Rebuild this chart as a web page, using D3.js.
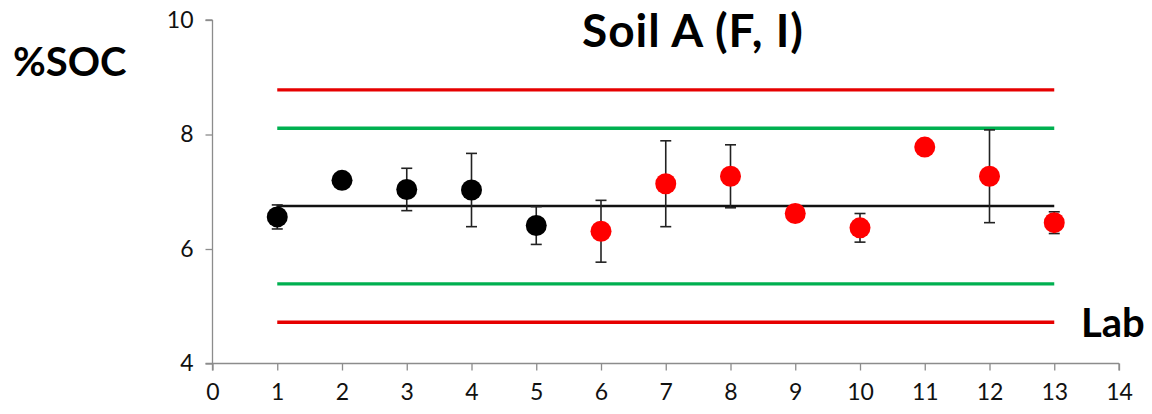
<!DOCTYPE html>
<html>
<head>
<meta charset="utf-8">
<script src="https://cdn.jsdelivr.net/npm/d3@7"></script>
<style>
  html, body { margin: 0; padding: 0; background: #fff; }
  svg { display: block; }
  text { font-family: Lato, "Open Sans", sans-serif; }
</style>
</head>
<body>
<svg id="chart" width="1152" height="414"></svg>
<script>
// Lab results for %SOC, Soil A
const labs = [1, 2, 3, 4, 5, 6, 7, 8, 9, 10, 11, 12, 13];
const socMean = [6.56, 7.20, 7.04, 7.03, 6.41, 6.31, 7.14, 7.27, 6.62, 6.37, 7.78, 7.27, 6.46];
const socErr  = [0.21, 0,    0.37, 0.64, 0.33, 0.54, 0.75, 0.55, 0,    0.25, 0,    0.81, 0.19];
const groupColor = ["black", "black", "black", "black", "black", "red", "red", "red", "red", "red", "red", "red", "red"];

// Consensus value and acceptance limits
const consensus = 6.75;
const innerLimit = 1.36;
const outerLimit = 2.03;
const limitSpan = [1, 13];

const xTicks = d3.range(0, 15, 1);
const yTicks = [4, 6, 8, 10];

const svg = d3.select("#chart");
const x = d3.scaleLinear().domain([0, 14]).range([212.5, 1119]);
const y = d3.scaleLinear().domain([4, 10]).range([363.5, 20]);

const axisColor = "#8c8c8c";

// Y axis
const yAxis = svg.append("g")
  .attr("transform", `translate(${x(0)},0)`)
  .call(d3.axisLeft(y).tickValues(yTicks).tickFormat(d3.format("d")).tickSize(7).tickPadding(12));
// X axis
const xAxis = svg.append("g")
  .attr("transform", `translate(0,${y(4)})`)
  .call(d3.axisBottom(x).tickValues(xTicks).tickFormat(d3.format("d")).tickSize(7).tickPadding(13));

[yAxis, xAxis].forEach(g => {
  g.select(".domain").attr("stroke", axisColor).attr("stroke-width", 1.3);
  g.selectAll(".tick line").attr("stroke", axisColor).attr("stroke-width", 1.3);
  g.selectAll(".tick text").attr("fill", "#111").attr("font-size", 23)
    .attr("font-family", "Lato, 'Open Sans', sans-serif");
});
// Axis lines overhang slightly at the corners
xAxis.select(".domain").attr("d", `M${x(0) - 7},0H${x(14)}M${x(14)},0V7`);
yAxis.select(".domain").attr("d", `M0,${y(10)}H-7M0,${y(10)}V${y(4) + 7}`);

// Reference lines
const refLines = [
  { v: consensus + outerLimit, color: "#e60000", w: 3.4 },
  { v: consensus + innerLimit, color: "#00b050", w: 3.4 },
  { v: consensus,              color: "#111111", w: 2.6 },
  { v: consensus - innerLimit, color: "#00b050", w: 3.4 },
  { v: consensus - outerLimit, color: "#e60000", w: 3.4 }
];
svg.append("g").selectAll("line").data(refLines).join("line")
  .attr("x1", x(limitSpan[0])).attr("x2", x(limitSpan[1]))
  .attr("y1", d => y(d.v)).attr("y2", d => y(d.v))
  .attr("stroke", d => d.color).attr("stroke-width", d => d.w);

// Error bars
const data = labs.map((lab, i) => ({ lab, v: socMean[i], e: socErr[i], c: groupColor[i] }));
const eb = svg.append("g").attr("stroke", "#222").attr("stroke-width", 1.6);
data.filter(d => d.e > 0).forEach(d => {
  const cx = x(d.lab);
  eb.append("line").attr("x1", cx).attr("x2", cx).attr("y1", y(d.v + d.e)).attr("y2", y(d.v - d.e));
  eb.append("line").attr("x1", cx - 5.5).attr("x2", cx + 5.5).attr("y1", y(d.v + d.e)).attr("y2", y(d.v + d.e));
  eb.append("line").attr("x1", cx - 5.5).attr("x2", cx + 5.5).attr("y1", y(d.v - d.e)).attr("y2", y(d.v - d.e));
});

// Lab markers
svg.append("g").selectAll("circle").data(data).join("circle")
  .attr("cx", d => x(d.lab)).attr("cy", d => y(d.v)).attr("r", 10.5)
  .attr("fill", d => d.c === "red" ? "#ff0000" : "#000");

// Titles
svg.append("text").attr("x", 693).attr("y", 47).attr("text-anchor", "middle")
  .attr("font-size", 46).attr("letter-spacing", 1).attr("font-weight", "bold").attr("fill", "#000").text("Soil A (F, I)");
svg.append("text").attr("x", 13).attr("y", 76)
  .attr("font-size", 40).attr("font-weight", "bold").attr("fill", "#000").text("%SOC");
svg.append("text").attr("x", 1081).attr("y", 337)
  .attr("font-size", 40).attr("font-weight", "bold").attr("fill", "#000").text("Lab");
</script>
</body>
</html>
